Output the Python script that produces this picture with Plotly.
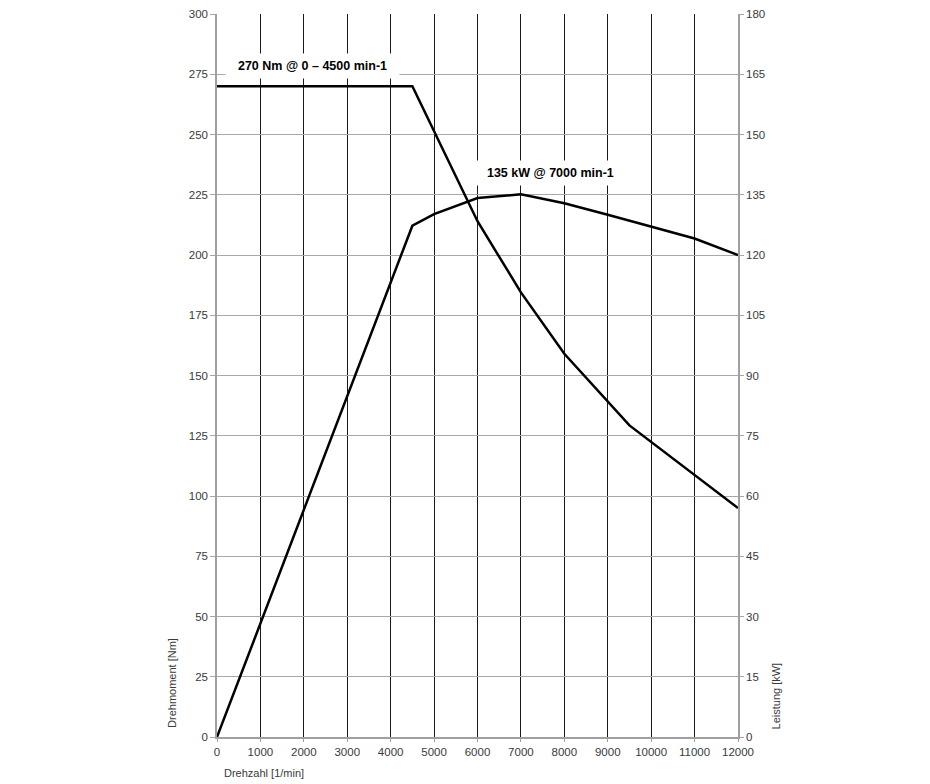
import plotly.graph_objects as go

# Drehmoment (Nm) ueber Drehzahl
rpm_torque = [0, 4500, 6000, 7000, 8000, 9500, 12000]
torque_nm = [270, 270, 214, 184.5, 159, 129.3, 95]

# Leistung (kW) ueber Drehzahl
rpm_power = [0, 1000, 2000, 3000, 4000, 4500, 5000, 6000, 7000, 8000, 9000, 10000, 11000, 12000]
power_kw = [0, 28.2, 56.8, 85.0, 113.0, 127.3, 130.2, 134.2, 135.1, 132.9, 130.0, 127.0, 124.1, 120]

x_ticks = list(range(0, 12001, 1000))
left_ticks = list(range(0, 301, 25))
right_ticks = list(range(0, 181, 15))

font = "Liberation Sans, Arial, sans-serif"

fig = go.Figure()
fig.add_trace(go.Scatter(x=rpm_torque, y=torque_nm, mode="lines",
                         line=dict(color="black", width=2.5), name="Drehmoment"))
fig.add_trace(go.Scatter(x=rpm_power, y=power_kw, mode="lines", yaxis="y2",
                         line=dict(color="black", width=2.5), name="Leistung"))

# page body adds 8px margin, so the figure is sized a bit smaller
fig.update_layout(
    width=922, height=776,
    margin=dict(l=209, r=192, t=6, b=47),
    paper_bgcolor="white", plot_bgcolor="white",
    showlegend=False,
    font=dict(family=font, size=11.5, color="#3a3a3a"),
    xaxis=dict(range=[0, 12000], tickvals=x_ticks, ticktext=[str(v) for v in x_ticks],
               showgrid=True, gridcolor="#1a1a1a", gridwidth=1.4, zeroline=False,
               showline=True, linecolor="#a0a0a0", linewidth=1.5, automargin=False,
               ticks="outside", ticklen=3, tickcolor="#a0a0a0"),
    yaxis=dict(range=[0, 300], tickvals=left_ticks, showgrid=True,
               gridcolor="#a8a8a8", gridwidth=1.3, zeroline=False,
               showline=True, linecolor="#a0a0a0", linewidth=1.5, automargin=False,
               ticks="outside", ticklen=5, tickcolor="#a8a8a8", ticklabeloverflow="allow"),
    yaxis2=dict(range=[0, 180], tickvals=right_ticks, overlaying="y", side="right",
                showgrid=False, zeroline=False, showline=True,
                linecolor="#a0a0a0", linewidth=1.5, automargin=False,
                ticks="outside", ticklen=4, tickcolor="#a8a8a8", ticklabeloverflow="allow"),
)

ann_font = dict(family=font, size=12.5, color="black", weight="bold")
fig.add_annotation(x=2200, y=278.5, xref="x", yref="y",
                   text="\u00a0\u00a0270 Nm @ 0 \u2013 4500 min-1\u00a0\u00a0",
                   showarrow=False, font=ann_font, bgcolor="white", borderpad=5)
fig.add_annotation(x=7680, y=140.3, xref="x", yref="y2",
                   text="\u00a0\u00a0135 kW @ 7000 min-1\u00a0\u00a0",
                   showarrow=False, font=ann_font, bgcolor="white", borderpad=5)

title_font = dict(family=font, size=11, color="#3a3a3a")
fig.add_annotation(x=-0.086, y=0.01, xref="paper", yref="paper",
                   text="Drehmoment [Nm]", textangle=-90, showarrow=False,
                   xanchor="center", yanchor="bottom", font=title_font)
fig.add_annotation(x=1.073, y=0.007, xref="paper", yref="paper",
                   text="Leistung [kW]", textangle=-90, showarrow=False,
                   xanchor="center", yanchor="bottom", font=title_font)
fig.add_annotation(x=0.009, y=-0.05, xref="paper", yref="paper",
                   text="Drehzahl [1/min]", showarrow=False,
                   xanchor="left", yanchor="middle", font=title_font)

fig.write_html("out.html")
